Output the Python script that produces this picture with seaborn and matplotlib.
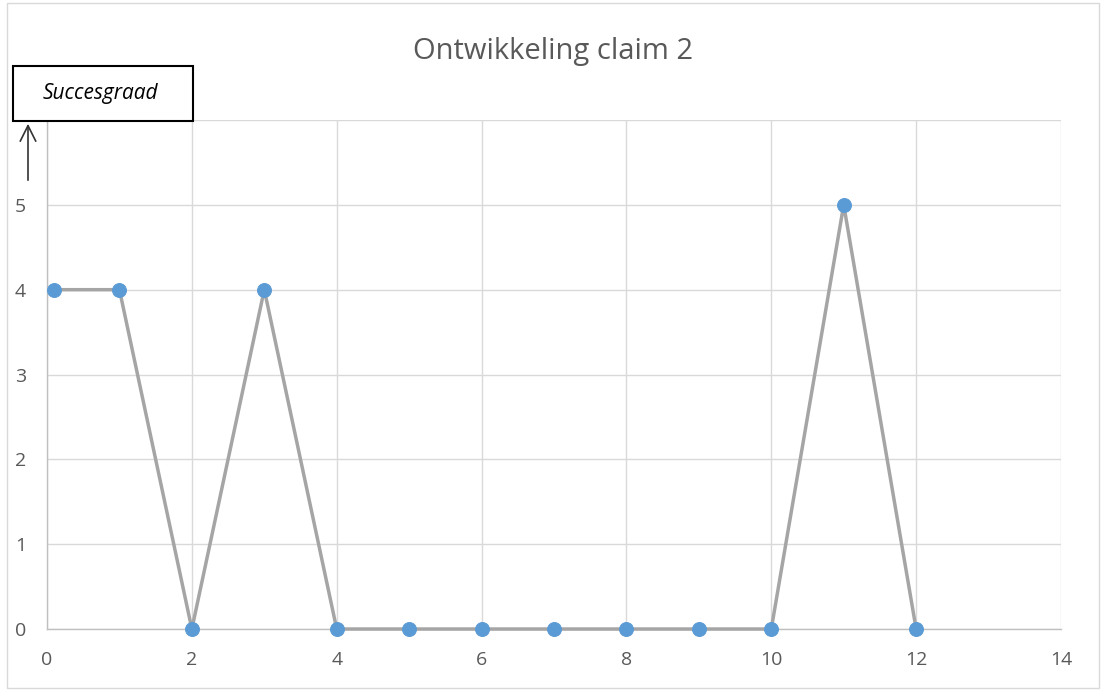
import matplotlib
matplotlib.use("Agg")
import matplotlib.pyplot as plt
import seaborn as sns
import pandas as pd
from matplotlib.patches import Rectangle

# data
x_vals = [0.1, 1, 2, 3, 4, 5, 6, 7, 8, 9, 10, 11, 12]
succes = [4, 4, 0, 4, 0, 0, 0, 0, 0, 0, 0, 5, 0]
x_ticks = [0, 2, 4, 6, 8, 10, 12, 14]
y_ticks = [0, 1, 2, 3, 4, 5, 6]

df = pd.DataFrame({"x": x_vals, "y": succes})

sns.set_style("white")
plt.rcParams["font.family"] = ["Open Sans", "DejaVu Sans"]

fig = plt.figure(figsize=(11.06, 6.91), dpi=100)
ax = fig.add_axes([0.0425, 0.0897, 0.9168, 0.7366])

sns.lineplot(data=df, x="x", y="y", ax=ax, color="#a5a5a5", linewidth=2.5,
             marker="o", markersize=10, markerfacecolor="#5b9bd5",
             markeredgecolor="#5b9bd5", zorder=3, clip_on=False)

ax.set_xlim(0, 14)
ax.set_ylim(0, 6)
ax.set_xticks(x_ticks)
ax.set_yticks(y_ticks)
ax.set_yticklabels([str(v) for v in y_ticks[:-1]] + [""])
ax.grid(True, color="#d9d9d9", linewidth=1)
ax.set_axisbelow(True)
for side in ["top", "right"]:
    ax.spines[side].set_visible(False)
for side in ["left", "bottom"]:
    ax.spines[side].set_color("#bfbfbf")
    ax.spines[side].set_linewidth(1)
ax.tick_params(axis="both", length=0, labelsize=14, colors="#595959")
ax.tick_params(axis="x", pad=16)
ax.tick_params(axis="y", pad=15)
ax.set_xlabel("")
ax.set_ylabel("")

fig.text(0.5, 0.925, "Ontwikkeling claim 2", ha="center", va="center",
         fontsize=21, color="#595959")

# y-axis label box with arrow
fig.patches.append(Rectangle((13 / 1106, 1 - 121 / 691), 180 / 1106, 55 / 691,
                             transform=fig.transFigure, facecolor="white",
                             edgecolor="black", linewidth=1.5))
fig.text(100 / 1106, 1 - 94 / 691, "Succesgraad", ha="center", va="center",
         fontsize=15, style="italic", color="black")
ax.annotate("", xy=(28 / 1106, 1 - 121 / 691), xytext=(28 / 1106, 1 - 183 / 691),
            xycoords="figure fraction", textcoords="figure fraction",
            arrowprops=dict(arrowstyle="->", color="#333333", lw=1.2,
                            mutation_scale=28))

# outer chart border
fig.patches.append(Rectangle((0.006, 0.005), 0.988, 0.99, transform=fig.transFigure,
                             facecolor="none", edgecolor="#d9d9d9", linewidth=1))

fig.savefig("out.png", dpi=100)
